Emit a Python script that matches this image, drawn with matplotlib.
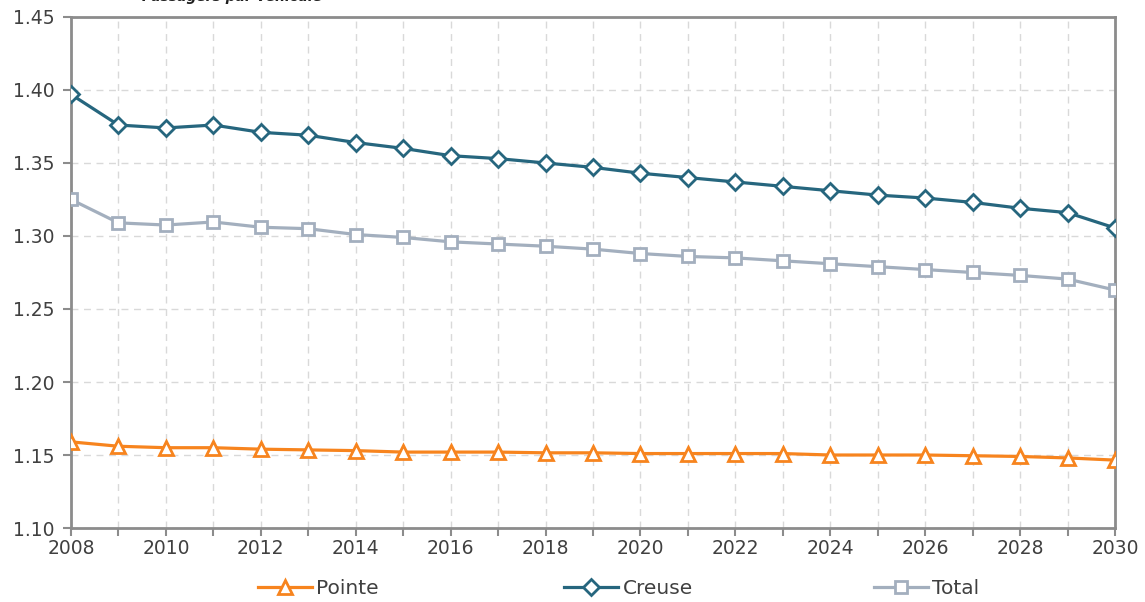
import matplotlib.pyplot as plt
import matplotlib.ticker as mticker

annees = list(range(2008, 2031))
pointe = [1.159, 1.156, 1.155, 1.155, 1.154, 1.1535, 1.153, 1.152, 1.152, 1.152,
          1.1515, 1.1515, 1.151, 1.151, 1.151, 1.151, 1.150, 1.150, 1.150, 1.1495,
          1.149, 1.148, 1.1465]
creuse = [1.397, 1.376, 1.374, 1.376, 1.371, 1.369, 1.364, 1.360, 1.355, 1.353,
          1.350, 1.347, 1.343, 1.340, 1.337, 1.334, 1.331, 1.328, 1.326, 1.323,
          1.319, 1.316, 1.3055]
total = [1.325, 1.309, 1.3075, 1.3096, 1.306, 1.305, 1.301, 1.299, 1.296, 1.2945,
         1.293, 1.291, 1.288, 1.286, 1.285, 1.283, 1.281, 1.279, 1.277, 1.275,
         1.273, 1.2705, 1.263]

plt.rcParams['font.family'] = ['DejaVu Sans']
fig = plt.figure(figsize=(11.45, 6.02), dpi=100)
ax = fig.add_axes([0.062, 0.1229, 0.9118, 0.8489])

c_pointe = '#F7841E'
c_creuse = '#26667E'
c_total = '#A3AFBE'
grid_c = '#D9D9D9'
axe_c = '#8C8C8C'
txt_c = '#404040'

l1, = ax.plot(annees, pointe, color=c_pointe, lw=2.3, marker='^', ms=10,
              mfc='white', mec=c_pointe, mew=2, label='Pointe', zorder=3)
l2, = ax.plot(annees, creuse, color=c_creuse, lw=2.3, marker='D', ms=8,
              mfc='white', mec=c_creuse, mew=2, label='Creuse', zorder=3)
l3, = ax.plot(annees, total, color=c_total, lw=2.3, marker='s', ms=9,
              mfc='white', mec=c_total, mew=2, label='Total', zorder=3)

ax.set_xlim(2008, 2030)
ax.set_ylim(1.10, 1.45)
ax.xaxis.set_major_locator(mticker.MultipleLocator(2))
ax.xaxis.set_minor_locator(mticker.MultipleLocator(1))
ax.yaxis.set_major_locator(mticker.MultipleLocator(0.05))
ax.yaxis.set_major_formatter(mticker.FormatStrFormatter('%.2f'))

ax.grid(True, which='both', axis='x', ls=(0, (5, 4)), color=grid_c, lw=1)
ax.grid(True, which='major', axis='y', ls=(0, (5, 4)), color=grid_c, lw=1)
ax.set_axisbelow(True)

for s in ax.spines.values():
    s.set_color(axe_c)
    s.set_linewidth(2)
ax.tick_params(axis='both', which='both', direction='out', color=axe_c,
               width=1.5, labelcolor=txt_c, labelsize=13.5)
ax.tick_params(axis='x', which='both', length=6, pad=2)
ax.tick_params(axis='y', length=6, pad=6)
ax.tick_params(right=False, top=False)

# legende en bas, trois entrées espacées
for h, xpos in zip([l1, l2, l3], [258 / 1145, 564 / 1145, 874 / 1145]):
    fig.legend(handles=[h], loc='center left', bbox_to_anchor=(xpos, 0.022),
               frameon=False, fontsize=14.5, handlelength=2.7,
               handletextpad=0.2, borderaxespad=0, borderpad=0,
               labelcolor=txt_c)

fig.text(232 / 1145, 1 - 1 / 602, 'Passagers par véhicule', ha='center',
         va='baseline', fontsize=10, fontweight='bold', style='italic',
         color='#202020')

plt.savefig('out.png', dpi=100)
